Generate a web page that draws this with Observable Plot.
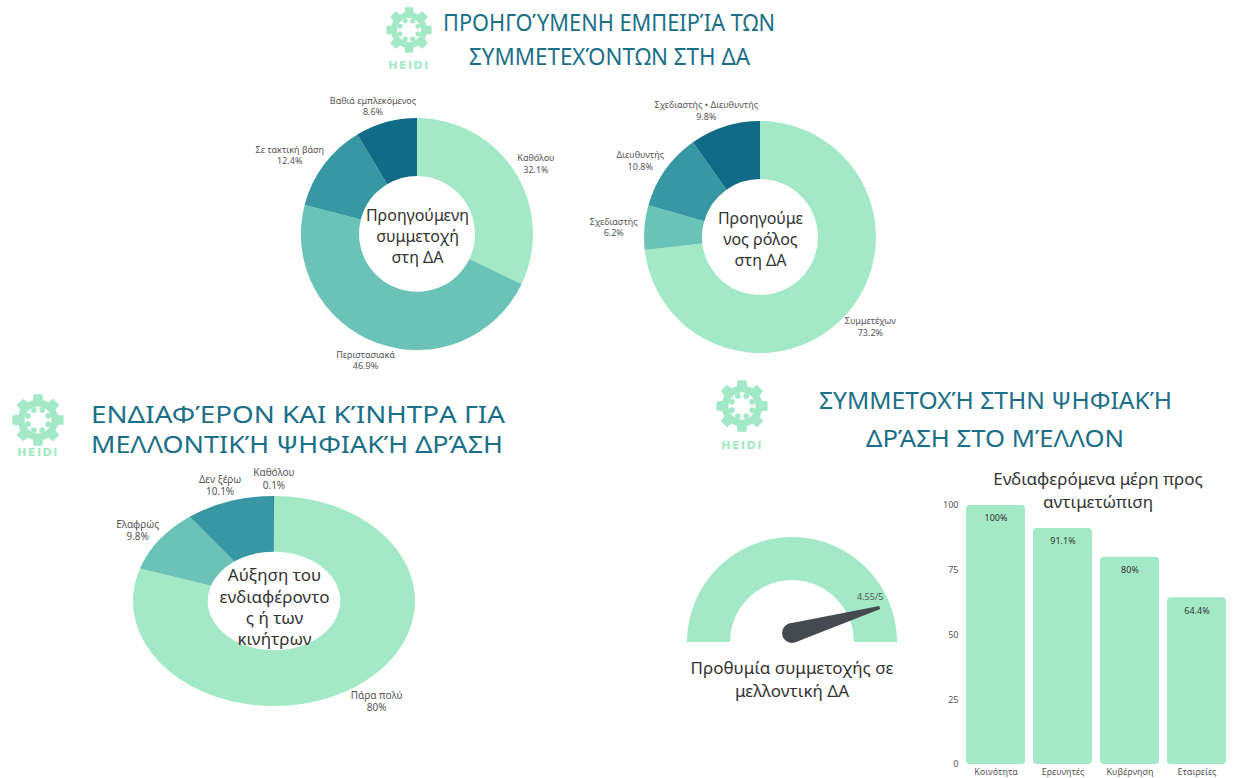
<!DOCTYPE html>
<html><head><meta charset="utf-8">
<script src="https://cdn.jsdelivr.net/npm/d3@7"></script>
<script src="https://cdn.jsdelivr.net/npm/@observablehq/plot@0.6"></script>
<style>
body{margin:0;background:#fff;}
#root{position:relative;width:1233px;height:778px;overflow:hidden;font-family:"Noto Sans",sans-serif;background:#fff;}
.title{position:absolute;color:#1b6f88;white-space:nowrap;line-height:1;transform-origin:0 0;font-family:"Noto Sans",sans-serif;}
.cap{position:absolute;color:#333;text-align:center;font-size:17px;line-height:23px;font-family:"Noto Sans",sans-serif;}
svg.plot-abs{position:absolute;background:transparent;max-width:none;}
</style></head><body><div id="root"></div>
<script>
// ---------- data ----------
const prevPartLabels = ["Καθόλου", "Περιστασιακά", "Σε τακτική βάση", "Βαθιά εμπλεκόμενος"];
const prevPartValues = [32.1, 46.9, 12.4, 8.6];
const prevRoleLabels = ["Συμμετέχων", "Σχεδιαστής", "Διευθυντής", "Σχεδιαστής • Διευθυντής"];
const prevRoleValues = [73.2, 6.2, 10.8, 9.8];
const interestLabels = ["Πάρα πολύ", "Ελαφρώς", "Δεν ξέρω", "Καθόλου"];
const interestValues = [80, 9.8, 10.1, 0.1];
const willingnessValue = 4.55;
const willingnessMax = 5;
const partyLabels = ["Κοινότητα", "Ερευνητές", "Κυβέρνηση", "Εταιρείες"];
const partyValues = [100, 91.1, 80, 64.4];
const yTicks = [0, 25, 50, 75, 100];
const palette = ["#a3e9c5", "#6ac3b6", "#3797a2", "#116b87"];
const mint = "#a3e9c5";

const root = document.getElementById("root");

function place(el, left, top) {
  el.classList.add("plot-abs");
  el.style.left = left + "px";
  el.style.top = top + "px";
  root.append(el);
}

// ---------- donut ----------
function donut({labels, values, cx, cy, kx, ky, w, h, inner, center, centerSize, centerLH, centerDy, labelSize, labelR}) {
  const rows = labels.map((label, i) => ({label, value: values[i]}));
  const arcs = d3.pie().sort(null).value(d => d.value)(rows);
  const lbl = arcs.map(a => {
    const mid = (a.startAngle + a.endAngle) / 2;
    const s = Math.sin(mid), c = Math.cos(mid);
    const lines = [a.data.label, a.data.value + "%"];
    const halfW = d3.max(lines, t => t.length) * labelSize * 0.27;
    const halfH = labelSize * 1.15;
    return {text: lines.join("\n"), x: s * labelR + s * halfW / kx, y: c * labelR + c * halfH / ky};
  });
  const plot = Plot.plot({
    width: w, height: h, margin: 0,
    style: {background: "transparent", fontFamily: "Noto Sans"},
    x: {domain: [-w / 2 / kx, w / 2 / kx], axis: null},
    y: {domain: [-h / 2 / ky, h / 2 / ky], axis: null},
    color: {domain: labels, range: palette},
    marks: [
      Plot.dot(rows, {fill: "label", r: 0, fillOpacity: 0}),
      (index, scales) => {
        const x0 = scales.x(0), y0 = scales.y(0);
        const sx = scales.x(1) - x0, sy = y0 - scales.y(1);
        const g = d3.create("svg:g").attr("transform", `translate(${x0},${y0}) scale(${sx},${sy})`);
        const arc = d3.arc().innerRadius(inner).outerRadius(1);
        g.selectAll("path").data(arcs).join("path")
          .attr("d", arc)
          .attr("fill", d => scales.color ? scales.color(d.data.label) : palette[d.index]);
        return g.node();
      },
      Plot.text(lbl, {x: "x", y: "y", text: "text", fontSize: labelSize, fill: "#555", lineHeight: 1.25}),
      Plot.text([center], {frameAnchor: "middle", text: d => d, fontSize: centerSize, fill: "#333", lineHeight: centerLH, dy: centerDy})
    ]
  });
  place(plot, cx - w / 2, cy - h / 2);
}

donut({labels: prevPartLabels, values: prevPartValues, cx: 417, cy: 234, kx: 116, ky: 116,
  w: 400, h: 300, inner: 0.5, center: "Προηγούμενη\nσυμμετοχή\nστη ΔΑ", centerSize: 16, centerLH: 1.3, centerDy: 1,
  labelSize: 9, labelR: 1.06});
donut({labels: prevRoleLabels, values: prevRoleValues, cx: 760, cy: 237, kx: 116, ky: 116,
  w: 380, h: 300, inner: 0.5, center: "Προηγούμε\nνος ρόλος\nστη ΔΑ", centerSize: 16, centerLH: 1.3, centerDy: 1,
  labelSize: 9, labelR: 1.06});
donut({labels: interestLabels, values: interestValues, cx: 274, cy: 601, kx: 141, ky: 105,
  w: 420, h: 280, inner: 0.47, center: "Αύξηση του\nενδιαφέροντο\nς ή των\nκινήτρων", centerSize: 17, centerLH: 1.25, centerDy: 5,
  labelSize: 10, labelR: 1.06});

// ---------- gauge ----------
(function gauge() {
  const k = 105, w = 240, h = 130, cx = 792, cy = 642, topH = 115;
  const theta = -Math.PI / 2 + Math.PI * willingnessValue / willingnessMax;
  const pivotUp = 9 / k, tipR = 0.87;
  const tip = {x: Math.sin(theta) * tipR, y: pivotUp + Math.cos(theta) * tipR, label: `${willingnessValue}/${willingnessMax}`};
  const plot = Plot.plot({
    width: w, height: h, margin: 0,
    style: {background: "transparent", fontFamily: "Noto Sans"},
    x: {domain: [-w / 2 / k, w / 2 / k], axis: null},
    y: {domain: [-(h - topH) / k, topH / k], axis: null},
    marks: [
      (index, scales) => {
        const x0 = scales.x(0), y0 = scales.y(0);
        const s = scales.x(1) - x0;
        const g = d3.create("svg:g");
        g.append("path")
          .attr("transform", `translate(${x0},${y0}) scale(${s})`)
          .attr("d", d3.arc().innerRadius(62 / 105).outerRadius(1).startAngle(-Math.PI / 2).endAngle(Math.PI / 2)())
          .attr("fill", mint);
        const px = scales.x(0), py = scales.y(pivotUp);
        const tx = scales.x(tip.x), ty = scales.y(tip.y);
        const L = Math.hypot(tx - px, ty - py);
        const ux = (tx - px) / L, uy = (ty - py) / L, nx = -uy, ny = ux;
        const rb = 10, rt = 1.6;
        g.append("path")
          .attr("d", `M${px + nx * rb},${py + ny * rb}L${tx + nx * rt},${ty + ny * rt}L${tx - nx * rt},${ty - ny * rt}L${px - nx * rb},${py - ny * rb}Z`)
          .attr("fill", "#454a50");
        g.append("circle").attr("cx", px).attr("cy", py).attr("r", rb).attr("fill", "#454a50");
        return g.node();
      },
      Plot.text([tip], {x: "x", y: "y", text: "label", dx: -10, dy: -11, fontSize: 9, fill: "#555"})
    ]
  });
  place(plot, cx - w / 2, cy - topH);
})();

// ---------- bars ----------
(function bars() {
  const rows = partyLabels.map((label, i) => ({label, value: partyValues[i]}));
  const plot = Plot.plot({
    width: 303, height: 308, marginLeft: 36, marginRight: 7, marginTop: 35, marginBottom: 14,
    style: {background: "transparent", fontFamily: "Noto Sans", fontSize: "9px", color: "#555"},
    x: {domain: partyLabels, paddingInner: 0.12, paddingOuter: 0, label: null, tickSize: 0, tickPadding: 4},
    y: {domain: [0, 100], ticks: yTicks, label: null, tickSize: 0, tickPadding: 8},
    marks: [
      Plot.barY(rows, {x: "label", y: "value", fill: mint, rx: 4}),
      Plot.text(rows, {x: "label", y: "value", text: d => d.value + "%", dy: 13, fill: "#333", fontSize: 9})
    ]
  });
  place(plot, 930, 470);
})();

// ---------- captions ----------
function caption(text, cx, top, width) {
  const d = document.createElement("div");
  d.className = "cap";
  d.style.left = (cx - width / 2) + "px";
  d.style.top = top + "px";
  d.style.width = width + "px";
  d.innerHTML = text;
  root.append(d);
}
caption("Προθυμία συμμετοχής σε<br>μελλοντική ΔΑ", 792, 656, 280);
caption("Ενδιαφερόμενα μέρη προς<br>αντιμετώπιση", 1098, 467, 280);

// ---------- titles ----------
function titleLine(text, x0, x1, yc, fs) {
  const s = document.createElement("div");
  s.className = "title";
  s.style.fontSize = fs + "px";
  s.textContent = text;
  s.style.left = x0 + "px";
  s.style.top = (yc - 0.53 * fs) + "px";
  root.append(s);
  const w = s.getBoundingClientRect().width;
  s.style.transform = `scaleX(${(x1 - x0) / w})`;
}
titleLine("ΠΡΟΗΓΟΎΜΕΝΗ ΕΜΠΕΙΡΊΑ ΤΩΝ", 443, 775, 23, 24);
titleLine("ΣΥΜΜΕΤΕΧΌΝΤΩΝ ΣΤΗ ΔΑ", 469, 750, 57, 24);
titleLine("ΕΝΔΙΑΦΈΡΟΝ ΚΑΙ ΚΊΝΗΤΡΑ ΓΙΑ", 91, 505, 415, 23);
titleLine("ΜΕΛΛΟΝΤΙΚΉ ΨΗΦΙΑΚΉ ΔΡΆΣΗ", 91, 503, 445, 23);
titleLine("ΣΥΜΜΕΤΟΧΉ ΣΤΗΝ ΨΗΦΙΑΚΉ", 819, 1172, 401, 24);
titleLine("ΔΡΆΣΗ ΣΤΟ ΜΈΛΛΟΝ", 866, 1124, 439, 24);

// ---------- logos ----------
function logo(cx, cy, R, ty) {
  const svg = d3.create("svg").attr("width", 2 * R + 20).attr("height", ty - cy + R + 20)
    .style("position", "absolute").style("left", (cx - R - 10) + "px").style("top", (cy - R - 10) + "px");
  const g = svg.append("g").attr("transform", `translate(${R + 10},${R + 10})`);
  const N = 8, Rb = 0.78 * R, pts = [];
  for (let i = 0; i < N; i++) {
    const a = i * 2 * Math.PI / N;
    const p = (ang, r) => [Math.sin(ang) * r, -Math.cos(ang) * r];
    pts.push(p(a - 0.26, Rb), p(a - 0.17, R), p(a + 0.17, R), p(a + 0.26, Rb), p(a + Math.PI / N, Rb * 1.01));
  }
  g.append("path").attr("d", "M" + pts.map(p => p.join(",")).join("L") + "Z").attr("fill", mint);
  g.append("circle").attr("r", 0.52 * R).attr("fill", "#fff");
  for (let i = 0; i < N; i++) {
    const a = i * 2 * Math.PI / N + Math.PI / N;
    g.append("circle").attr("cx", Math.sin(a) * 0.42 * R).attr("cy", -Math.cos(a) * 0.42 * R).attr("r", 0.11 * R).attr("fill", mint);
  }
  svg.append("text").attr("x", R + 10).attr("y", ty - cy + R + 10).attr("text-anchor", "middle")
    .attr("dominant-baseline", "middle").attr("fill", mint).attr("font-family", "DejaVu Sans")
    .attr("font-weight", "bold").attr("font-size", 11).attr("letter-spacing", 1.5).text("HEIDI");
  root.append(svg.node());
}
logo(409, 30, 23, 66);
logo(38, 420, 26, 453);
logo(742, 406, 26, 446);
</script></body></html>
